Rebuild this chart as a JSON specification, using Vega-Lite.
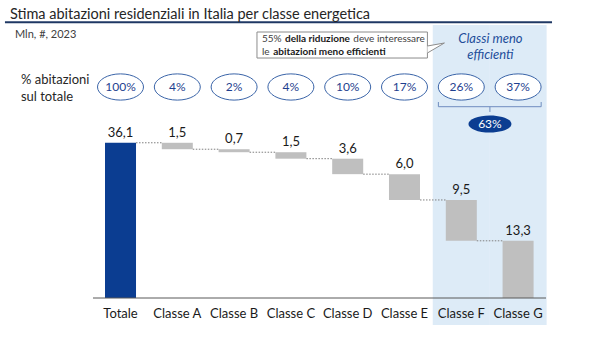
{
  "$schema": "https://vega.github.io/schema/vega-lite/v6.json",
  "width": 600,
  "height": 340,
  "autosize": {"type": "none"},
  "padding": 0,
  "background": "white",
  "config": {
    "view": {"stroke": null},
    "font": "Lato",
    "axisY": {"disable": true},
    "locale": {"number": {"decimal": ",", "thousands": ".", "grouping": [3], "currency": ["", " €"]}}
  },
  "data": {"values": [
    {"cat": "Totale", "val": 36.1, "lo": 0, "hi": 36.1, "cum": 36.1, "next": "Classe A", "pct": "100%"},
    {"cat": "Classe A", "val": 1.5, "lo": 34.6, "hi": 36.1, "cum": 34.6, "next": "Classe B", "pct": "4%"},
    {"cat": "Classe B", "val": 0.7, "lo": 33.9, "hi": 34.6, "cum": 33.9, "next": "Classe C", "pct": "2%"},
    {"cat": "Classe C", "val": 1.5, "lo": 32.4, "hi": 33.9, "cum": 32.4, "next": "Classe D", "pct": "4%"},
    {"cat": "Classe D", "val": 3.6, "lo": 28.8, "hi": 32.4, "cum": 28.8, "next": "Classe E", "pct": "10%"},
    {"cat": "Classe E", "val": 6.0, "lo": 22.8, "hi": 28.8, "cum": 22.8, "next": "Classe F", "pct": "17%"},
    {"cat": "Classe F", "val": 9.5, "lo": 13.3, "hi": 22.8, "cum": 13.3, "next": "Classe G", "pct": "26%"},
    {"cat": "Classe G", "val": 13.3, "lo": 0, "hi": 13.3, "cum": 0, "next": null, "pct": "37%"}
  ]},
  "layer": [
    {
      "transform": [{"filter": {"field": "cat", "oneOf": ["Classe F", "Classe G"]}}],
      "mark": {"type": "bar", "color": "#DDEBF7", "width": {"band": 1.84}},
      "encoding": {
        "x": {"field": "cat", "type": "nominal", "title": null,
          "scale": {"type": "band", "domain": ["Totale","Classe A","Classe B","Classe C","Classe D","Classe E","Classe F","Classe G"], "range": [105, 533.6], "paddingInner": 0.454, "paddingOuter": 0, "align": 0.5, "round": false},
          "axis": {"orient": "bottom", "offset": -25, "domain": false, "ticks": false, "grid": false, "labelPadding": 2, "labelBaseline": "alphabetic", "labelFontSize": 13, "labelColor": "#1a1a1a", "labelFont": "Lato", "labelAngle": 0, "title": null, "zindex": 1}},
        "y": {"datum": 63.49, "type": "quantitative", "scale": {"domain": [-9.767, 69.302], "nice": false, "zero": false}, "axis": null},
        "y2": {"datum": -6.28}
      }
    },
    {
      "data": {"values": [{}]},
      "mark": {"type": "rule", "color": "#1F3864", "strokeWidth": 2},
      "encoding": {
        "x": {"datum": "Totale", "bandPosition": -3.226, "scale": {"type": "band", "domain": ["Totale","Classe A","Classe B","Classe C","Classe D","Classe E","Classe F","Classe G"], "range": [105, 533.6], "paddingInner": 0.454, "paddingOuter": 0, "align": 0.5, "round": false}},
        "x2": {"datum": "Classe G", "bandPosition": 1.594},
        "y": {"datum": 64.12, "type": "quantitative", "scale": {"domain": [-9.767, 69.302], "nice": false, "zero": false}}
      }
    },
    {
      "data": {"values": [{}]},
      "mark": {"type": "text", "text": "Stima abitazioni residenziali in Italia per classe energetica", "align": "left", "baseline": "alphabetic", "fontSize": 14.5, "color": "#262626"},
      "encoding": {
        "x": {"datum": "Totale", "bandPosition": -3.065, "scale": {"type": "band", "domain": ["Totale","Classe A","Classe B","Classe C","Classe D","Classe E","Classe F","Classe G"], "range": [105, 533.6], "paddingInner": 0.454, "paddingOuter": 0, "align": 0.5, "round": false}},
        "y": {"datum": 64.88, "type": "quantitative", "scale": {"domain": [-9.767, 69.302], "nice": false, "zero": false}}
      }
    },
    {
      "data": {"values": [{}]},
      "mark": {"type": "text", "text": "Mln, #, 2023", "align": "left", "baseline": "middle", "fontSize": 11, "color": "#404040"},
      "encoding": {
        "x": {"datum": "Totale", "bandPosition": -2.903, "scale": {"type": "band", "domain": ["Totale","Classe A","Classe B","Classe C","Classe D","Classe E","Classe F","Classe G"], "range": [105, 533.6], "paddingInner": 0.454, "paddingOuter": 0, "align": 0.5, "round": false}},
        "y": {"datum": 61.16, "type": "quantitative", "scale": {"domain": [-9.767, 69.302], "nice": false, "zero": false}}
      }
    },
    {
      "data": {"values": [{}]},
      "mark": {"type": "rect", "fill": "white", "stroke": "#8C8C8C", "strokeWidth": 1},
      "encoding": {
        "x": {"datum": "Classe C", "bandPosition": -0.594, "scale": {"type": "band", "domain": ["Totale","Classe A","Classe B","Classe C","Classe D","Classe E","Classe F","Classe G"], "range": [105, 533.6], "paddingInner": 0.454, "paddingOuter": 0, "align": 0.5, "round": false}},
        "x2": {"datum": "Classe E", "bandPosition": 1.239},
        "y": {"datum": 61.86, "type": "quantitative", "scale": {"domain": [-9.767, 69.302], "nice": false, "zero": false}},
        "y2": {"datum": 55.81}
      }
    },
    {
      "data": {"values": [{}]},
      "mark": {"type": "point", "filled": true, "fill": "white", "stroke": "#8C8C8C", "strokeWidth": 1, "opacity": 1, "size": 1156,
        "shape": "M 0 -0.118 L 1 -0.294 L 0 0.294"},
      "encoding": {
        "x": {"datum": "Classe E", "bandPosition": 1.239, "scale": {"type": "band", "domain": ["Totale","Classe A","Classe B","Classe C","Classe D","Classe E","Classe F","Classe G"], "range": [105, 533.6], "paddingInner": 0.454, "paddingOuter": 0, "align": 0.5, "round": false}},
        "y": {"datum": 58.14, "type": "quantitative", "scale": {"domain": [-9.767, 69.302], "nice": false, "zero": false}}
      }
    },
    {
      "data": {"values": [{}]},
      "mark": {"type": "text", "text": "55%", "align": "left", "baseline": "middle", "fontSize": 10, "color": "#404040"},
      "encoding": {
        "x": {"datum": "Classe C", "bandPosition": -0.432, "scale": {"type": "band", "domain": ["Totale","Classe A","Classe B","Classe C","Classe D","Classe E","Classe F","Classe G"], "range": [105, 533.6], "paddingInner": 0.454, "paddingOuter": 0, "align": 0.5, "round": false}},
        "y": {"datum": 60.23, "type": "quantitative", "scale": {"domain": [-9.767, 69.302], "nice": false, "zero": false}}
      }
    },
    {
      "data": {"values": [{}]},
      "mark": {"type": "text", "text": "della riduzione", "align": "left", "baseline": "middle", "fontSize": 10, "fontWeight": "bold", "color": "#1a1a1a"},
      "encoding": {
        "x": {"datum": "Classe C", "bandPosition": 0.31, "scale": {"type": "band", "domain": ["Totale","Classe A","Classe B","Classe C","Classe D","Classe E","Classe F","Classe G"], "range": [105, 533.6], "paddingInner": 0.454, "paddingOuter": 0, "align": 0.5, "round": false}},
        "y": {"datum": 60.23, "type": "quantitative", "scale": {"domain": [-9.767, 69.302], "nice": false, "zero": false}}
      }
    },
    {
      "data": {"values": [{}]},
      "mark": {"type": "text", "text": "deve interessare", "align": "left", "baseline": "middle", "fontSize": 10, "color": "#404040"},
      "encoding": {
        "x": {"datum": "Classe C", "bandPosition": 2.513, "scale": {"type": "band", "domain": ["Totale","Classe A","Classe B","Classe C","Classe D","Classe E","Classe F","Classe G"], "range": [105, 533.6], "paddingInner": 0.454, "paddingOuter": 0, "align": 0.5, "round": false}},
        "y": {"datum": 60.23, "type": "quantitative", "scale": {"domain": [-9.767, 69.302], "nice": false, "zero": false}}
      }
    },
    {
      "data": {"values": [{}]},
      "mark": {"type": "text", "text": "le", "align": "left", "baseline": "middle", "fontSize": 10, "color": "#404040"},
      "encoding": {
        "x": {"datum": "Classe C", "bandPosition": -0.432, "scale": {"type": "band", "domain": ["Totale","Classe A","Classe B","Classe C","Classe D","Classe E","Classe F","Classe G"], "range": [105, 533.6], "paddingInner": 0.454, "paddingOuter": 0, "align": 0.5, "round": false}},
        "y": {"datum": 57.14, "type": "quantitative", "scale": {"domain": [-9.767, 69.302], "nice": false, "zero": false}}
      }
    },
    {
      "data": {"values": [{}]},
      "mark": {"type": "text", "text": "abitazioni meno efficienti", "align": "left", "baseline": "middle", "fontSize": 10, "fontWeight": "bold", "color": "#1a1a1a"},
      "encoding": {
        "x": {"datum": "Classe C", "bandPosition": -0.068, "scale": {"type": "band", "domain": ["Totale","Classe A","Classe B","Classe C","Classe D","Classe E","Classe F","Classe G"], "range": [105, 533.6], "paddingInner": 0.454, "paddingOuter": 0, "align": 0.5, "round": false}},
        "y": {"datum": 57.14, "type": "quantitative", "scale": {"domain": [-9.767, 69.302], "nice": false, "zero": false}}
      }
    },
    {
      "data": {"values": [{}]},
      "mark": {"type": "text", "text": "Classi meno", "align": "center", "baseline": "middle", "fontSize": 13, "fontStyle": "italic", "color": "#1F4E9A"},
      "encoding": {
        "x": {"datum": "Classe F", "bandPosition": 1.439, "scale": {"type": "band", "domain": ["Totale","Classe A","Classe B","Classe C","Classe D","Classe E","Classe F","Classe G"], "range": [105, 533.6], "paddingInner": 0.454, "paddingOuter": 0, "align": 0.5, "round": false}},
        "y": {"datum": 60.23, "type": "quantitative", "scale": {"domain": [-9.767, 69.302], "nice": false, "zero": false}}
      }
    },
    {
      "data": {"values": [{}]},
      "mark": {"type": "text", "text": "efficienti", "align": "center", "baseline": "middle", "fontSize": 13, "fontStyle": "italic", "color": "#1F4E9A"},
      "encoding": {
        "x": {"datum": "Classe F", "bandPosition": 1.439, "scale": {"type": "band", "domain": ["Totale","Classe A","Classe B","Classe C","Classe D","Classe E","Classe F","Classe G"], "range": [105, 533.6], "paddingInner": 0.454, "paddingOuter": 0, "align": 0.5, "round": false}},
        "y": {"datum": 56.51, "type": "quantitative", "scale": {"domain": [-9.767, 69.302], "nice": false, "zero": false}}
      }
    },
    {
      "data": {"values": [{}]},
      "mark": {"type": "text", "text": "% abitazioni", "align": "left", "baseline": "middle", "fontSize": 13, "color": "#262626"},
      "encoding": {
        "x": {"datum": "Totale", "bandPosition": -2.71, "scale": {"type": "band", "domain": ["Totale","Classe A","Classe B","Classe C","Classe D","Classe E","Classe F","Classe G"], "range": [105, 533.6], "paddingInner": 0.454, "paddingOuter": 0, "align": 0.5, "round": false}},
        "y": {"datum": 50.7, "type": "quantitative", "scale": {"domain": [-9.767, 69.302], "nice": false, "zero": false}}
      }
    },
    {
      "data": {"values": [{}]},
      "mark": {"type": "text", "text": "sul totale", "align": "left", "baseline": "middle", "fontSize": 13, "color": "#262626"},
      "encoding": {
        "x": {"datum": "Totale", "bandPosition": -2.71, "scale": {"type": "band", "domain": ["Totale","Classe A","Classe B","Classe C","Classe D","Classe E","Classe F","Classe G"], "range": [105, 533.6], "paddingInner": 0.454, "paddingOuter": 0, "align": 0.5, "round": false}},
        "y": {"datum": 46.74, "type": "quantitative", "scale": {"domain": [-9.767, 69.302], "nice": false, "zero": false}}
      }
    },
    {
      "data": {"values": [{}]},
      "mark": {"type": "rule", "color": "#6F8DBF", "strokeWidth": 1},
      "encoding": {
        "x": {"datum": "Classe F", "bandPosition": -0.239, "scale": {"type": "band", "domain": ["Totale","Classe A","Classe B","Classe C","Classe D","Classe E","Classe F","Classe G"], "range": [105, 533.6], "paddingInner": 0.454, "paddingOuter": 0, "align": 0.5, "round": false}},
        "x2": {"datum": "Classe G", "bandPosition": 1.244},
        "y": {"datum": 44.49, "type": "quantitative", "scale": {"domain": [-9.767, 69.302], "nice": false, "zero": false}}
      }
    },
    {
      "data": {"values": [{}]},
      "mark": {"type": "rule", "color": "#6F8DBF", "strokeWidth": 1},
      "encoding": {
        "x": {"datum": "Classe F", "bandPosition": -0.239, "scale": {"type": "band", "domain": ["Totale","Classe A","Classe B","Classe C","Classe D","Classe E","Classe F","Classe G"], "range": [105, 533.6], "paddingInner": 0.454, "paddingOuter": 0, "align": 0.5, "round": false}},
        "y": {"datum": 45.58, "type": "quantitative", "scale": {"domain": [-9.767, 69.302], "nice": false, "zero": false}},
        "y2": {"datum": 44.49}
      }
    },
    {
      "data": {"values": [{}]},
      "mark": {"type": "rule", "color": "#6F8DBF", "strokeWidth": 1},
      "encoding": {
        "x": {"datum": "Classe G", "bandPosition": 1.244, "scale": {"type": "band", "domain": ["Totale","Classe A","Classe B","Classe C","Classe D","Classe E","Classe F","Classe G"], "range": [105, 533.6], "paddingInner": 0.454, "paddingOuter": 0, "align": 0.5, "round": false}},
        "y": {"datum": 45.58, "type": "quantitative", "scale": {"domain": [-9.767, 69.302], "nice": false, "zero": false}},
        "y2": {"datum": 44.49}
      }
    },
    {
      "data": {"values": [{}]},
      "mark": {"type": "rule", "color": "#6F8DBF", "strokeWidth": 1},
      "encoding": {
        "x": {"datum": "Classe F", "bandPosition": 1.423, "scale": {"type": "band", "domain": ["Totale","Classe A","Classe B","Classe C","Classe D","Classe E","Classe F","Classe G"], "range": [105, 533.6], "paddingInner": 0.454, "paddingOuter": 0, "align": 0.5, "round": false}},
        "y": {"datum": 44.49, "type": "quantitative", "scale": {"domain": [-9.767, 69.302], "nice": false, "zero": false}},
        "y2": {"datum": 43.26}
      }
    },
    {
      "data": {"values": [{}]},
      "mark": {"type": "point", "filled": true, "fill": "#0B3D91", "opacity": 1, "size": 1849,
        "shape": "M -1 0 C -1 -0.221 -0.552 -0.4 0 -0.4 C 0.552 -0.4 1 -0.221 1 0 C 1 0.221 0.552 0.4 0 0.4 C -0.552 0.4 -1 0.221 -1 0 Z"},
      "encoding": {
        "x": {"datum": "Classe F", "bandPosition": 1.423, "scale": {"type": "band", "domain": ["Totale","Classe A","Classe B","Classe C","Classe D","Classe E","Classe F","Classe G"], "range": [105, 533.6], "paddingInner": 0.454, "paddingOuter": 0, "align": 0.5, "round": false}},
        "y": {"datum": 40.47, "type": "quantitative", "scale": {"domain": [-9.767, 69.302], "nice": false, "zero": false}}
      }
    },
    {
      "data": {"values": [{}]},
      "mark": {"type": "text", "text": "63%", "align": "center", "baseline": "middle", "fontSize": 12, "color": "white"},
      "encoding": {
        "x": {"datum": "Classe F", "bandPosition": 1.423, "scale": {"type": "band", "domain": ["Totale","Classe A","Classe B","Classe C","Classe D","Classe E","Classe F","Classe G"], "range": [105, 533.6], "paddingInner": 0.454, "paddingOuter": 0, "align": 0.5, "round": false}},
        "y": {"datum": 40.47, "type": "quantitative", "scale": {"domain": [-9.767, 69.302], "nice": false, "zero": false}}
      }
    },
    {
      "mark": {"type": "point", "filled": true, "fill": "white", "stroke": "#3A64A8", "strokeWidth": 1, "opacity": 1, "size": 2116,
        "shape": "M -1 0 C -1 -0.315 -0.552 -0.57 0 -0.57 C 0.552 -0.57 1 -0.315 1 0 C 1 0.315 0.552 0.57 0 0.57 C -0.552 0.57 -1 0.315 -1 0 Z"},
      "encoding": {
        "x": {"field": "cat", "type": "nominal", "scale": {"type": "band", "domain": ["Totale","Classe A","Classe B","Classe C","Classe D","Classe E","Classe F","Classe G"], "range": [105, 533.6], "paddingInner": 0.454, "paddingOuter": 0, "align": 0.5, "round": false}},
        "y": {"datum": 49.07, "type": "quantitative", "scale": {"domain": [-9.767, 69.302], "nice": false, "zero": false}}
      }
    },
    {
      "mark": {"type": "text", "align": "center", "baseline": "middle", "fontSize": 12, "color": "#1F3F8F"},
      "encoding": {
        "x": {"field": "cat", "type": "nominal", "scale": {"type": "band", "domain": ["Totale","Classe A","Classe B","Classe C","Classe D","Classe E","Classe F","Classe G"], "range": [105, 533.6], "paddingInner": 0.454, "paddingOuter": 0, "align": 0.5, "round": false}},
        "y": {"datum": 49.07, "type": "quantitative", "scale": {"domain": [-9.767, 69.302], "nice": false, "zero": false}},
        "text": {"field": "pct"}
      }
    },
    {
      "mark": {"type": "bar"},
      "encoding": {
        "x": {"field": "cat", "type": "nominal", "scale": {"type": "band", "domain": ["Totale","Classe A","Classe B","Classe C","Classe D","Classe E","Classe F","Classe G"], "range": [105, 533.6], "paddingInner": 0.454, "paddingOuter": 0, "align": 0.5, "round": false}},
        "y": {"field": "lo", "type": "quantitative", "scale": {"domain": [-9.767, 69.302], "nice": false, "zero": false}},
        "y2": {"field": "hi"},
        "color": {"condition": {"test": "datum.cat === 'Totale'", "value": "#0B3D91"}, "value": "#BFBFBF"}
      }
    },
    {
      "transform": [{"filter": "datum.next != null"}],
      "mark": {"type": "rule", "color": "#7F7F7F", "strokeWidth": 1, "strokeDash": [1.5, 1.5]},
      "encoding": {
        "x": {"field": "cat", "type": "nominal", "bandPosition": 1, "scale": {"type": "band", "domain": ["Totale","Classe A","Classe B","Classe C","Classe D","Classe E","Classe F","Classe G"], "range": [105, 533.6], "paddingInner": 0.454, "paddingOuter": 0, "align": 0.5, "round": false}},
        "x2": {"field": "next", "bandPosition": 0},
        "y": {"field": "cum", "type": "quantitative", "scale": {"domain": [-9.767, 69.302], "nice": false, "zero": false}}
      }
    },
    {
      "mark": {"type": "text", "align": "center", "baseline": "alphabetic", "dy": -6, "fontSize": 13, "color": "#1a1a1a"},
      "encoding": {
        "x": {"field": "cat", "type": "nominal", "scale": {"type": "band", "domain": ["Totale","Classe A","Classe B","Classe C","Classe D","Classe E","Classe F","Classe G"], "range": [105, 533.6], "paddingInner": 0.454, "paddingOuter": 0, "align": 0.5, "round": false}},
        "y": {"field": "hi", "type": "quantitative", "scale": {"domain": [-9.767, 69.302], "nice": false, "zero": false}},
        "text": {"field": "val", "type": "quantitative", "format": ".1f"}
      }
    },
    {
      "data": {"values": [{}]},
      "mark": {"type": "rule", "color": "#595959", "strokeWidth": 1},
      "encoding": {
        "x": {"datum": "Totale", "bandPosition": -0.387, "scale": {"type": "band", "domain": ["Totale","Classe A","Classe B","Classe C","Classe D","Classe E","Classe F","Classe G"], "range": [105, 533.6], "paddingInner": 0.454, "paddingOuter": 0, "align": 0.5, "round": false}},
        "x2": {"datum": "Classe G", "bandPosition": 1.4},
        "y": {"datum": 0, "type": "quantitative", "scale": {"domain": [-9.767, 69.302], "nice": false, "zero": false}}
      }
    }
  ]
}
